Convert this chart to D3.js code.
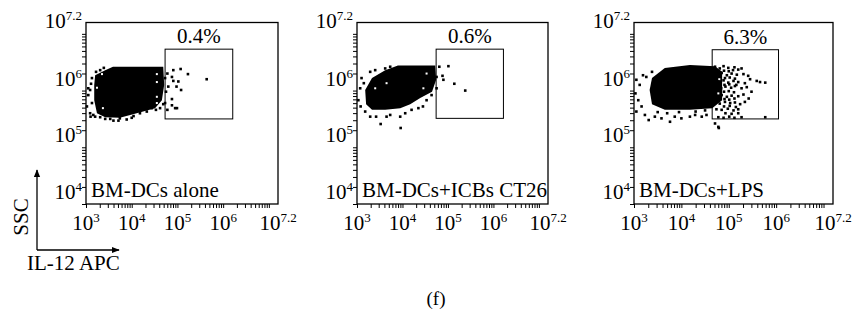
<!DOCTYPE html>
<html>
<head>
<meta charset="utf-8">
<script src="https://cdn.jsdelivr.net/npm/d3@7"></script>
<style>
  body { margin: 0; background: #fff; }
  svg text { font-family: "Liberation Serif", "DejaVu Serif", serif; fill: #000; }
</style>
</head>
<body>
<svg id="chart" width="865" height="315"></svg>
<script>
// every value below is log10 of the measured intensity (IL-12 APC on x, SSC on y)
const apcRange = [3, 7.2];
const sscRange = [4, 7.2];
const apcTickLabels = [[3, "3"], [4, "4"], [5, "5"], [6, "6"], [7.2, "7.2"]];
const sscTickLabels = [[4, "4"], [5, "5"], [6, "6"], [7.2, "7.2"]];

const sampleNames = ["BM-DCs alone", "BM-DCs+ICBs CT26", "BM-DCs+LPS"];
const gatePercents = ["0.4%", "0.6%", "6.3%"];

// gate: [apc low, apc high], [ssc low, ssc high]
const gateAlone = [[4.73, 6.21], [5.50, 6.73]];
const gateCT26 = [[4.74, 6.22], [5.51, 6.73]];
const gateLPS = [[4.65, 6.05], [5.50, 6.72]];

// outline of the solid black part of each cloud
const coreAlone = [[3.20,6.27],[3.42,6.36],[3.59,6.42],[4.69,6.42],[4.71,6.10],[4.66,5.83],[4.51,5.69],
  [4.29,5.64],[4.07,5.59],[3.74,5.52],[3.42,5.53],[3.24,5.60],[3.18,5.83],[3.18,6.10]];
const coreCT26 = [[3.33,6.22],[3.62,6.36],[3.90,6.44],[4.72,6.44],[4.74,6.19],[4.65,5.98],[4.39,5.87],
  [4.17,5.76],[3.95,5.69],[3.62,5.66],[3.33,5.66],[3.20,5.76],[3.18,6.01]];
const coreLPS = [[3.38,6.22],[3.65,6.40],[4.18,6.45],[4.71,6.43],[4.86,6.33],[4.86,5.83],[4.65,5.69],
  [4.18,5.66],[3.65,5.66],[3.38,5.76],[3.33,6.01]];

// single events around the clouds
const dotsAlone = [
  [4.78,6.30],[4.88,6.24],[4.91,6.36],[5.07,6.38],[5.23,6.29],[4.91,6.17],[5.02,6.16],[5.64,6.20],
  [4.98,6.07],[5.08,6.01],[4.80,6.07],[4.88,5.85],[4.88,5.74],[4.78,5.66],[4.95,5.69],[4.99,5.69],
  [4.73,5.78],[4.75,5.98],[4.73,6.22],
  [3.09,6.01],[3.05,5.92],[3.13,5.78],[3.02,5.72],[3.09,5.60],[3.16,5.57],[3.05,6.04],[3.11,6.12],
  [3.10,5.54],[3.20,5.54],[3.13,6.22],
  [3.31,5.53],[3.42,5.50],[3.53,5.50],[3.60,5.47],[3.71,5.47],[3.74,5.51],[3.89,5.49],[4.00,5.52],
  [4.04,5.55],[4.18,5.60],[4.33,5.63],[4.44,5.69],[4.53,5.66],[4.62,5.69],[4.69,5.76],
  [3.31,6.36],[3.39,6.40],[3.22,6.33]
];
const dotsCT26 = [
  [4.81,6.42],[5.01,6.43],[4.88,6.26],[4.90,6.19],[5.14,6.12],[5.38,6.00],[4.75,6.24],[4.75,6.04],
  [3.10,6.22],[3.07,6.04],[3.03,5.83],[3.08,5.72],[3.18,5.63],[3.29,6.33],[3.40,6.36],[3.15,6.13],
  [3.29,5.54],[3.42,5.54],[3.52,5.41],[3.65,5.54],[3.73,5.57],[3.95,5.54],[3.96,5.34],[4.06,5.60],
  [4.20,5.66],[4.35,5.69],[4.45,5.72],[4.53,5.83],[4.64,5.92],
  [3.62,6.39],[3.73,6.42]
];
const dotsLPS = [
  [4.71,6.42],[4.81,6.39],[4.89,6.43],[4.99,6.40],[5.12,6.41],[5.20,6.37],[5.27,6.39],
  [4.74,6.29],[4.85,6.31],[4.96,6.27],[5.06,6.30],[5.17,6.28],[5.31,6.29],[5.41,6.26],
  [4.78,6.16],[4.89,6.18],[4.99,6.14],[5.10,6.17],[5.20,6.15],[5.34,6.13],[5.59,6.17],[5.66,6.15],[5.77,6.14],
  [4.71,6.06],[4.84,6.04],[4.93,6.07],[5.05,6.05],[5.13,6.08],[5.27,6.04],[5.38,6.06],
  [4.74,5.90],[4.85,5.92],[4.96,5.89],[5.06,5.91],[5.20,5.90],[5.31,5.93],
  [4.71,5.79],[4.81,5.77],[4.92,5.80],[5.03,5.78],[5.13,5.79],[5.24,5.76],[5.34,5.80],
  [4.74,5.67],[4.85,5.66],[4.98,5.68],[5.10,5.65],[5.20,5.67],
  [4.78,5.53],[4.89,5.52],[5.01,5.54],[5.12,5.52],[5.27,5.53],[5.77,5.53],[4.78,5.36],
  // denser band just right of the solid part
  [4.90,6.35],[5.00,6.34],[5.09,6.36],[4.92,6.22],[5.02,6.23],[5.13,6.21],[4.91,6.10],[5.01,6.11],
  [5.16,6.10],[4.90,5.98],[5.00,5.99],[5.11,5.97],[4.91,5.85],[5.01,5.84],[5.12,5.86],[4.90,5.72],
  [5.02,5.73],[5.15,5.71],[4.93,5.60],[5.06,5.59],[5.20,5.60],[5.45,6.20],[5.48,5.98],[5.42,5.86],
  [3.05,6.19],[3.12,6.10],[3.03,5.95],[3.09,5.83],[3.16,5.72],[3.05,5.63],[3.23,5.57],[3.31,5.48],
  [3.44,5.54],[3.58,5.51],[3.76,5.45],[3.86,5.54],[4.00,5.51],[4.18,5.54],[4.29,5.57],[4.43,5.54],
  [4.53,5.57],[4.71,5.42],[4.79,5.34],[3.19,6.27],[3.26,6.24],[3.38,6.33],
  [3.50,5.62],[3.70,5.60],[3.95,5.62],[4.30,5.63],[4.50,5.65]
];

// white specks inside the solid part
const gapsAlone = [[3.35,6.29],[3.24,6.05],[4.55,6.29],[4.55,6.15],[4.55,5.89],[3.37,5.69],[4.55,5.78]];
const gapsCT26 = [[3.65,6.13],[4.46,6.04],[4.53,6.30],[3.40,6.04]];
const gapsLPS = [[4.80,6.20],[4.78,5.95]];

const panels = [
  { left: 86, right: 278, name: sampleNames[0], pct: gatePercents[0], gate: gateAlone, core: coreAlone, dots: dotsAlone, gaps: gapsAlone },
  { left: 357, right: 548, name: sampleNames[1], pct: gatePercents[1], gate: gateCT26, core: coreCT26, dots: dotsCT26, gaps: gapsCT26 },
  { left: 634, right: 833, name: sampleNames[2], pct: gatePercents[2], gate: gateLPS, core: coreLPS, dots: dotsLPS, gaps: gapsLPS }
];
const plotTop = 22.5, plotBottom = 204;
const serif = "Liberation Serif, DejaVu Serif, serif";

const svg = d3.select("#chart");

// minor ticks at 2..9 x 10^n
function logTicks(lo, hi) {
  const out = [];
  for (let n = Math.floor(lo); n < hi; n++) {
    for (let k = 1; k <= 9; k++) {
      const v = n + Math.log10(k);
      if (v >= lo && v <= hi) out.push(v);
    }
  }
  return out;
}

function powerLabel(sel, exp) {
  sel.text("10").append("tspan").attr("dy", -8).attr("font-size", 13).text(exp);
}

function label(parent) {
  return parent.append("text").attr("font-family", serif).attr("font-size", 21);
}

panels.forEach(p => {
  const x = d3.scaleLinear().domain(apcRange).range([p.left, p.right]);
  const y = d3.scaleLinear().domain(sscRange).range([plotBottom, plotTop]);
  const g = svg.append("g");

  // cloud
  g.append("path")
    .attr("d", d3.line().x(d => x(d[0])).y(d => y(d[1])).curve(d3.curveLinearClosed)(p.core))
    .attr("fill", "#000");
  g.selectAll("rect.gap").data(p.gaps).enter().append("rect")
    .attr("class", "gap")
    .attr("x", d => x(d[0]) - 1).attr("y", d => y(d[1]) - 1)
    .attr("width", 2).attr("height", 2).attr("fill", "#fff");
  g.selectAll("rect.dot").data(p.dots).enter().append("rect")
    .attr("class", "dot")
    .attr("x", d => x(d[0]) - 1.3).attr("y", d => y(d[1]) - 1.3)
    .attr("width", 2.6).attr("height", 2.6).attr("fill", "#000");

  // gate
  g.append("rect")
    .attr("x", x(p.gate[0][0])).attr("y", y(p.gate[1][1]))
    .attr("width", x(p.gate[0][1]) - x(p.gate[0][0]))
    .attr("height", y(p.gate[1][0]) - y(p.gate[1][1]))
    .attr("fill", "none").attr("stroke", "#000").attr("stroke-width", 1);
  label(g)
    .attr("x", (x(p.gate[0][0]) + x(p.gate[0][1])) / 2)
    .attr("y", y(p.gate[1][1]) - 6)
    .attr("text-anchor", "middle")
    .text(p.pct);

  // axes
  const xAxis = g.append("g").attr("transform", `translate(0,${plotBottom})`)
    .call(d3.axisBottom(x).tickValues(logTicks(apcRange[0], apcRange[1])).tickSize(4).tickSizeOuter(0).tickFormat(""));
  const yAxis = g.append("g").attr("transform", `translate(${p.left},0)`)
    .call(d3.axisLeft(y).tickValues(logTicks(sscRange[0], sscRange[1])).tickSize(4).tickSizeOuter(0).tickFormat(""));
  [xAxis, yAxis].forEach(a => {
    a.select(".domain").remove();
    a.selectAll("line").attr("stroke", "#000").attr("stroke-width", 1);
  });

  g.append("rect")
    .attr("x", p.left).attr("y", plotTop)
    .attr("width", p.right - p.left).attr("height", plotBottom - plotTop)
    .attr("fill", "none").attr("stroke", "#000").attr("stroke-width", 1.3);

  apcTickLabels.forEach(([v, e]) => {
    label(g).attr("x", x(v)).attr("y", 230)
      .attr("text-anchor", "middle")
      .call(powerLabel, e);
  });
  sscTickLabels.forEach(([v, e]) => {
    const ty = v === sscRange[1] ? y(v) + 5 : y(v) - 5;
    label(g).attr("x", p.left - 4).attr("y", ty)
      .attr("text-anchor", "end")
      .call(powerLabel, e);
  });

  label(g)
    .attr("x", p.left + 5).attr("y", 197)
    .text(p.name);
});

// axis key
svg.append("defs").append("marker")
  .attr("id", "head").attr("viewBox", "0 0 10 10").attr("refX", 9).attr("refY", 5)
  .attr("markerWidth", 6).attr("markerHeight", 6).attr("orient", "auto")
  .append("path").attr("d", "M0,1 L10,5 L0,9 Z").attr("fill", "#000");
svg.append("path").attr("d", "M37,250 L37,170").attr("stroke", "#000").attr("stroke-width", 1.3)
  .attr("marker-end", "url(#head)");
svg.append("path").attr("d", "M37,250 L119,250").attr("stroke", "#000").attr("stroke-width", 1.3)
  .attr("marker-end", "url(#head)");
label(svg).attr("transform", "translate(28,217) rotate(-90)")
  .attr("text-anchor", "middle").text("SSC");
label(svg).attr("x", 27).attr("y", 270).text("IL-12 APC");

label(svg).attr("x", 436).attr("y", 305).attr("text-anchor", "middle")
  .attr("font-size", 19).text("(f)");
</script>
</body>
</html>
